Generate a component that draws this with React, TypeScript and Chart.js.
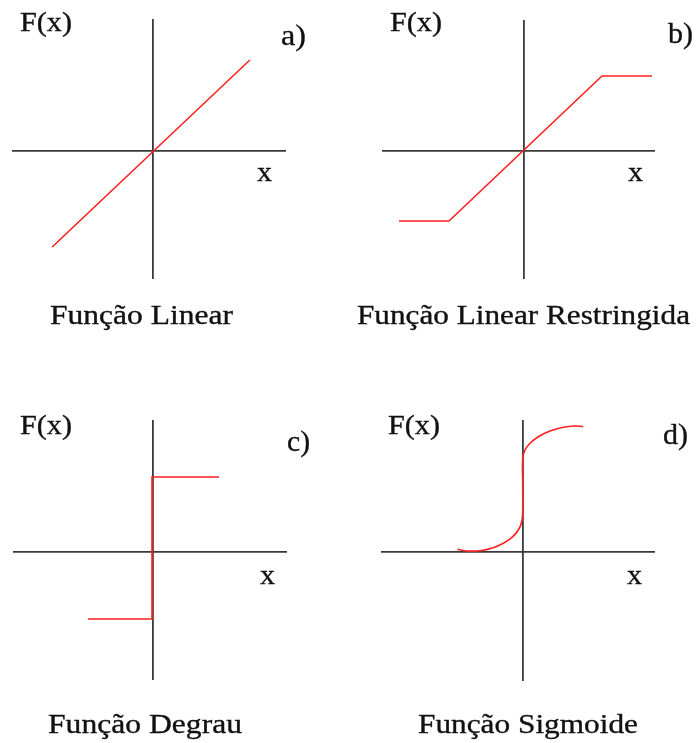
import React, { useEffect, useRef } from "react";
import { Chart, registerables } from "chart.js";

Chart.register(...registerables);

// a) Função Linear
const LINEAR_X = [-1.0, 0.97];
const LINEAR_Y = [-0.96, 0.91];

// b) Função Linear Restringida
const RESTRICTED_X = [-1.25, -0.75, 0.78, 1.28];
const RESTRICTED_Y = [-0.7, -0.7, 0.75, 0.75];

// c) Função Degrau
const STEP_X = [-0.65, -0.01, -0.01, 0.66];
const STEP_Y = [-0.67, -0.67, 0.75, 0.75];

// d) Função Sigmoide
const SIGMOID_X = [-0.654, -0.56, -0.427, -0.294, -0.194, -0.11, -0.044, -0.01, 0.0, 0.0, 0.0, 0.023, 0.073, 0.156, 0.273, 0.406, 0.523, 0.606];
const SIGMOID_Y = [0.022, 0.005, 0.008, 0.038, 0.082, 0.138, 0.215, 0.298, 0.398, 0.698, 0.932, 1.015, 1.082, 1.148, 1.205, 1.242, 1.255, 1.25];

const TITLES = ["Função Linear", "Função Linear Restringida", "Função Degrau", "Função Sigmoide"];
const TAGS = ["a)", "b)", "c)", "d)"];
const Y_NAME = "F(x)";
const X_NAME = "x";

type Label = { text: string; x: number; y: number; size: number; width: number; center?: boolean };

type Panel = {
  left: number;
  top: number;
  width: number;
  height: number;
  padding: { left: number; top: number; right: number; bottom: number };
  xRange: [number, number];
  yRange: [number, number];
  xs: number[];
  ys: number[];
  tension: number;
  labels: Label[];
};

const SERIF = '"Liberation Serif", Tinos, "Times New Roman", Times, serif';
const TEXT_COLOR = "#111111";

// Draws the axis names, panel tag and caption of each panel.
const labelPlugin = {
  id: "panelLabels",
  afterDraw(chart: any, _args: any, opts: any) {
    const ctx: CanvasRenderingContext2D = chart.ctx;
    for (const l of (opts.items || []) as Label[]) {
      ctx.save();
      ctx.font = `${l.size}px ${SERIF}`;
      ctx.fillStyle = TEXT_COLOR;
      ctx.strokeStyle = TEXT_COLOR;
      ctx.lineWidth = 0.35;
      ctx.lineJoin = "round";
      ctx.textBaseline = "alphabetic";
      ctx.textAlign = "left";
      const w = ctx.measureText(l.text).width;
      const sx = l.width / w;
      const x0 = l.center ? l.x - l.width / 2 : l.x;
      ctx.translate(x0, l.y);
      ctx.scale(sx, 1);
      ctx.fillText(l.text, 0, 0);
      ctx.strokeText(l.text, 0, 0);
      ctx.restore();
    }
  },
};

const PANELS: Panel[] = [
  {
    left: 0, top: 0, width: 348, height: 370,
    padding: { left: 12, top: 19, right: 62, bottom: 91 },
    xRange: [-1.4, 1.33], yRange: [-1.28, 1.32],
    xs: LINEAR_X, ys: LINEAR_Y, tension: 0,
    labels: [
      { text: Y_NAME, x: 20, y: 31, size: 28, width: 52 },
      { text: TAGS[0], x: 281, y: 45, size: 29, width: 25 },
      { text: X_NAME, x: 257, y: 181, size: 28, width: 15 },
      { text: TITLES[0], x: 141.5, y: 324, size: 28, width: 183, center: true },
    ],
  },
  {
    left: 348, top: 0, width: 349, height: 370,
    padding: { left: 34, top: 20, right: 42, bottom: 91 },
    xRange: [-1.42, 1.31], yRange: [-1.28, 1.31],
    xs: RESTRICTED_X, ys: RESTRICTED_Y, tension: 0,
    labels: [
      { text: Y_NAME, x: 42, y: 31, size: 28, width: 52 },
      { text: TAGS[1], x: 320, y: 43, size: 29, width: 25 },
      { text: X_NAME, x: 280, y: 181, size: 28, width: 15 },
      { text: TITLES[1], x: 175.5, y: 324, size: 28, width: 333, center: true },
    ],
  },
  {
    left: 0, top: 370, width: 348, height: 373,
    padding: { left: 13, top: 50, right: 61, bottom: 63 },
    xRange: [-1.4, 1.34], yRange: [-1.28, 1.32],
    xs: STEP_X, ys: STEP_Y, tension: 0,
    labels: [
      { text: Y_NAME, x: 20, y: 64, size: 28, width: 52 },
      { text: TAGS[2], x: 287, y: 81, size: 29, width: 23 },
      { text: X_NAME, x: 260, y: 214, size: 28, width: 15 },
      { text: TITLES[2], x: 145, y: 363, size: 28, width: 194, center: true },
    ],
  },
  {
    left: 348, top: 370, width: 349, height: 373,
    padding: { left: 33, top: 50, right: 42, bottom: 62 },
    xRange: [-1.417, 1.323], yRange: [-1.295, 1.315],
    xs: SIGMOID_X, ys: SIGMOID_Y, tension: 0.4,
    labels: [
      { text: Y_NAME, x: 40, y: 64, size: 28, width: 52 },
      { text: TAGS[3], x: 315, y: 74, size: 29, width: 25 },
      { text: X_NAME, x: 279, y: 214, size: 28, width: 15 },
      { text: TITLES[3], x: 180, y: 363, size: 28, width: 220, center: true },
    ],
  },
];

const AXIS_COLOR = "#3a3a3a";
const CURVE_COLOR = "#ff2020";

// A linear scale whose only visible mark is the grid line through zero.
function axisScale(range: [number, number]) {
  return {
    type: "linear" as const,
    min: range[0],
    max: range[1],
    afterBuildTicks: (s: any) => {
      s.ticks = [{ value: 0 }];
    },
    ticks: { display: false },
    grid: { color: AXIS_COLOR, lineWidth: 1.8, drawTicks: false },
    border: { display: false },
  };
}

function FunctionPanel({ panel }: { panel: Panel }) {
  const ref = useRef<HTMLCanvasElement | null>(null);

  useEffect(() => {
    if (!ref.current) return;
    const points = panel.xs.map((x, i) => ({ x, y: panel.ys[i] }));
    const chart = new Chart(ref.current, {
      type: "scatter",
      data: {
        datasets: [
          {
            data: points,
            showLine: true,
            borderColor: CURVE_COLOR,
            borderWidth: 1.6,
            pointRadius: 0,
            tension: panel.tension,
            fill: false,
          },
        ],
      },
      options: {
        animation: false,
        responsive: false,
        devicePixelRatio: 1,
        layout: { padding: panel.padding },
        scales: {
          x: axisScale(panel.xRange),
          y: axisScale(panel.yRange),
        },
        plugins: {
          legend: { display: false },
          tooltip: { enabled: false },
          panelLabels: { items: panel.labels },
        } as any,
      },
      plugins: [labelPlugin],
    });
    let alive = true;
    // Redraw once the serif face is ready so the captions use it.
    if ((document as any).fonts?.load) {
      (document as any).fonts
        .load('28px "Liberation Serif"', "Função")
        .then(() => {
          if (alive) chart.draw();
        })
        .catch(() => {});
    }
    return () => {
      alive = false;
      chart.destroy();
    };
  }, [panel]);

  return (
    <canvas
      ref={ref}
      width={panel.width}
      height={panel.height}
      style={{
        position: "absolute",
        left: panel.left,
        top: panel.top,
        width: panel.width,
        height: panel.height,
      }}
    />
  );
}

export default function App() {
  return (
    <div
      style={{
        position: "absolute",
        left: 0,
        top: 0,
        width: 697,
        height: 743,
        background: "#ffffff",
        overflow: "hidden",
        fontFamily: SERIF,
      }}
    >
      {PANELS.map((p, i) => (
        <FunctionPanel key={i} panel={p} />
      ))}
    </div>
  );
}
